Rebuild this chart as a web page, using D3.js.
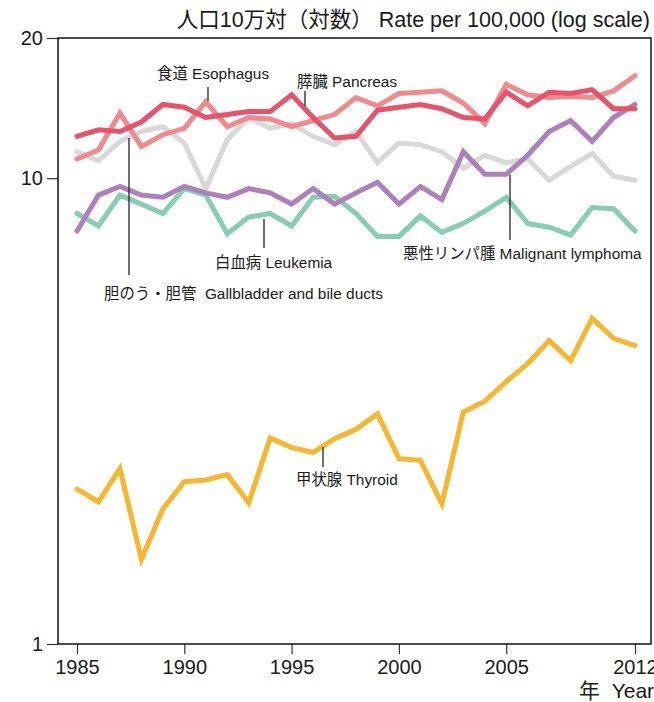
<!DOCTYPE html>
<html>
<head>
<meta charset="utf-8">
<script src="https://cdn.jsdelivr.net/npm/d3@7"></script>
<style>
  body { margin: 0; background: #fff; }
  svg text { font-family: "Liberation Sans", "Noto Sans CJK JP", sans-serif; fill: #1a1a1a; }
</style>
</head>
<body>
<div id="chart"></div>
<script>
// Years on the x axis (27 points; the last point is labelled 2012)
const years = [1985, 1986, 1987, 1988, 1989, 1990, 1991, 1992, 1993, 1994,
  1995, 1996, 1997, 1998, 1999, 2000, 2001, 2002, 2003, 2004,
  2005, 2007, 2008, 2009, 2010, 2011, 2012];
const xTickYears = [1985, 1990, 1995, 2000, 2005, 2012];
const yTicks = [1, 10, 20];

// Rates per 100,000
const gallbladder = [11.4, 10.9, 12.0, 12.6, 12.9, 11.9, 9.5, 12.1, 13.5, 12.8, 13.1, 12.3, 11.8, 12.6, 10.8, 11.9, 11.8, 11.4, 10.5, 11.2, 10.8, 11.0, 9.9, 10.6, 11.3, 10.1, 9.9];
const leukemia = [8.4, 7.9, 9.2, 8.8, 8.4, 9.5, 9.2, 7.6, 8.25, 8.4, 7.9, 9.1, 9.15, 8.4, 7.5, 7.5, 8.3, 7.65, 8.0, 8.5, 9.1, 8.0, 7.85, 7.55, 8.65, 8.6, 7.7];
const lymphoma = [7.7, 9.2, 9.6, 9.2, 9.1, 9.6, 9.3, 9.1, 9.5, 9.3, 8.8, 9.5, 8.8, 9.3, 9.8, 8.8, 9.6, 9.0, 11.4, 10.2, 10.2, 11.2, 12.6, 13.3, 12.0, 13.5, 14.4];
const esophagus = [11.0, 11.5, 13.8, 11.7, 12.4, 12.8, 14.6, 12.9, 13.5, 13.4, 12.9, 13.3, 13.7, 14.9, 14.3, 15.2, 15.3, 15.4, 14.5, 13.1, 15.9, 15.1, 14.9, 15.0, 14.9, 15.4, 16.6];
const pancreas = [12.3, 12.7, 12.6, 13.2, 14.4, 14.2, 13.5, 13.7, 13.9, 13.9, 15.1, 13.5, 12.2, 12.3, 14.0, 14.2, 14.4, 14.1, 13.5, 13.4, 15.3, 14.3, 15.3, 15.2, 15.5, 14.1, 14.1];
const thyroid = [2.15, 2.02, 2.38, 1.52, 1.95, 2.23, 2.25, 2.31, 2.01, 2.77, 2.64, 2.58, 2.76, 2.89, 3.12, 2.50, 2.48, 2.00, 3.15, 3.32, 3.66, 4.00, 4.48, 4.06, 5.00, 4.53, 4.37];

const seriesNames = ['gallbladder', 'leukemia', 'lymphoma', 'esophagus', 'pancreas', 'thyroid'];
const seriesValues = [gallbladder, leukemia, lymphoma, esophagus, pancreas, thyroid];
const seriesColors = ['#d8d8d8', '#86cdb1', '#ae80bb', '#f2898d', '#e8536b', '#f8b62e'];

// Labels with a short pointer line: [text, textX, textBaseline, lineX, lineY1, lineY2]
const labels = [
  ['食道 Esophagus', 157, 79, 208, 87, 101],
  ['膵臓 Pancreas', 297, 87, 305, 91, 106],
  ['白血病 Leukemia', 215, 268, 264, 219, 248],
  ['胆のう・胆管  Gallbladder and bile ducts', 104, 299, 129, 138, 275],
  ['悪性リンパ腫 Malignant lymphoma', 403, 259, 510, 175, 240],
  ['甲状腺 Thyroid', 296, 485, 323, 447, 467]
];

const W = 654, H = 702;
const margin = {top: 38, right: 3, bottom: 58, left: 58};
const width = W - margin.left - margin.right;
const height = H - margin.top - margin.bottom;

const svg = d3.select('#chart').append('svg')
    .attr('width', W)
    .attr('height', H);

const g = svg.append('g')
    .attr('transform', `translate(${margin.left},${margin.top})`);

const x = d3.scalePoint()
    .domain(years)
    .range([19, 577]);

const y = d3.scaleLog()
    .domain([1, 20])
    .range([height, 0]);

// axes
const xAxis = d3.axisBottom(x)
    .tickValues(xTickYears)
    .tickSize(10)
    .tickPadding(6)
    .tickFormat(d3.format('d'));

const yAxis = d3.axisLeft(y)
    .tickValues(yTicks)
    .tickSize(11)
    .tickPadding(4)
    .tickFormat(d3.format('d'));

g.append('g')
    .attr('transform', `translate(0,${height})`)
    .call(xAxis)
    .call(a => a.select('.domain').remove())
    .call(a => a.selectAll('line').attr('stroke', '#333').attr('stroke-width', 1.2))
    .call(a => a.selectAll('text').attr('font-size', 20).attr('fill', '#1a1a1a'));

g.append('g')
    .call(yAxis)
    .call(a => a.select('.domain').remove())
    .call(a => a.selectAll('line').attr('stroke', '#333').attr('stroke-width', 1.2))
    .call(a => a.selectAll('text').attr('font-size', 20).attr('fill', '#1a1a1a'));

// frame
g.append('rect')
    .attr('width', width)
    .attr('height', height)
    .attr('fill', 'none')
    .attr('stroke', '#111')
    .attr('stroke-width', 1.5);

// lines
const line = d3.line()
    .x((d, i) => x(years[i]))
    .y(d => y(d));

g.selectAll('.series')
  .data(seriesValues)
  .join('path')
    .attr('class', 'series')
    .attr('d', d => line(d))
    .attr('fill', 'none')
    .attr('stroke', (d, i) => seriesColors[i])
    .attr('stroke-width', 5)
    .attr('stroke-linejoin', 'miter')
    .attr('stroke-linecap', 'round');

// labels
const lab = svg.append('g');
lab.selectAll('line')
  .data(labels)
  .join('line')
    .attr('x1', d => d[3]).attr('x2', d => d[3])
    .attr('y1', d => d[4]).attr('y2', d => d[5])
    .attr('stroke', '#222')
    .attr('stroke-width', 1.3);

lab.selectAll('text')
  .data(labels)
  .join('text')
    .attr('x', d => d[1])
    .attr('y', d => d[2])
    .attr('font-size', 15.4)
    .style('white-space', 'pre')
    .text(d => d[0]);

// titles
svg.append('text')
    .attr('x', 650)
    .attr('y', 27)
    .attr('text-anchor', 'end')
    .attr('font-size', 21.5)
    .style('white-space', 'pre')
    .text('人口10万対（対数） Rate per 100,000 (log scale)');

svg.append('text')
    .attr('x', 579)
    .attr('y', 698)
    .attr('font-size', 21)
    .style('white-space', 'pre')
    .text('年  Year');
</script>
</body>
</html>
